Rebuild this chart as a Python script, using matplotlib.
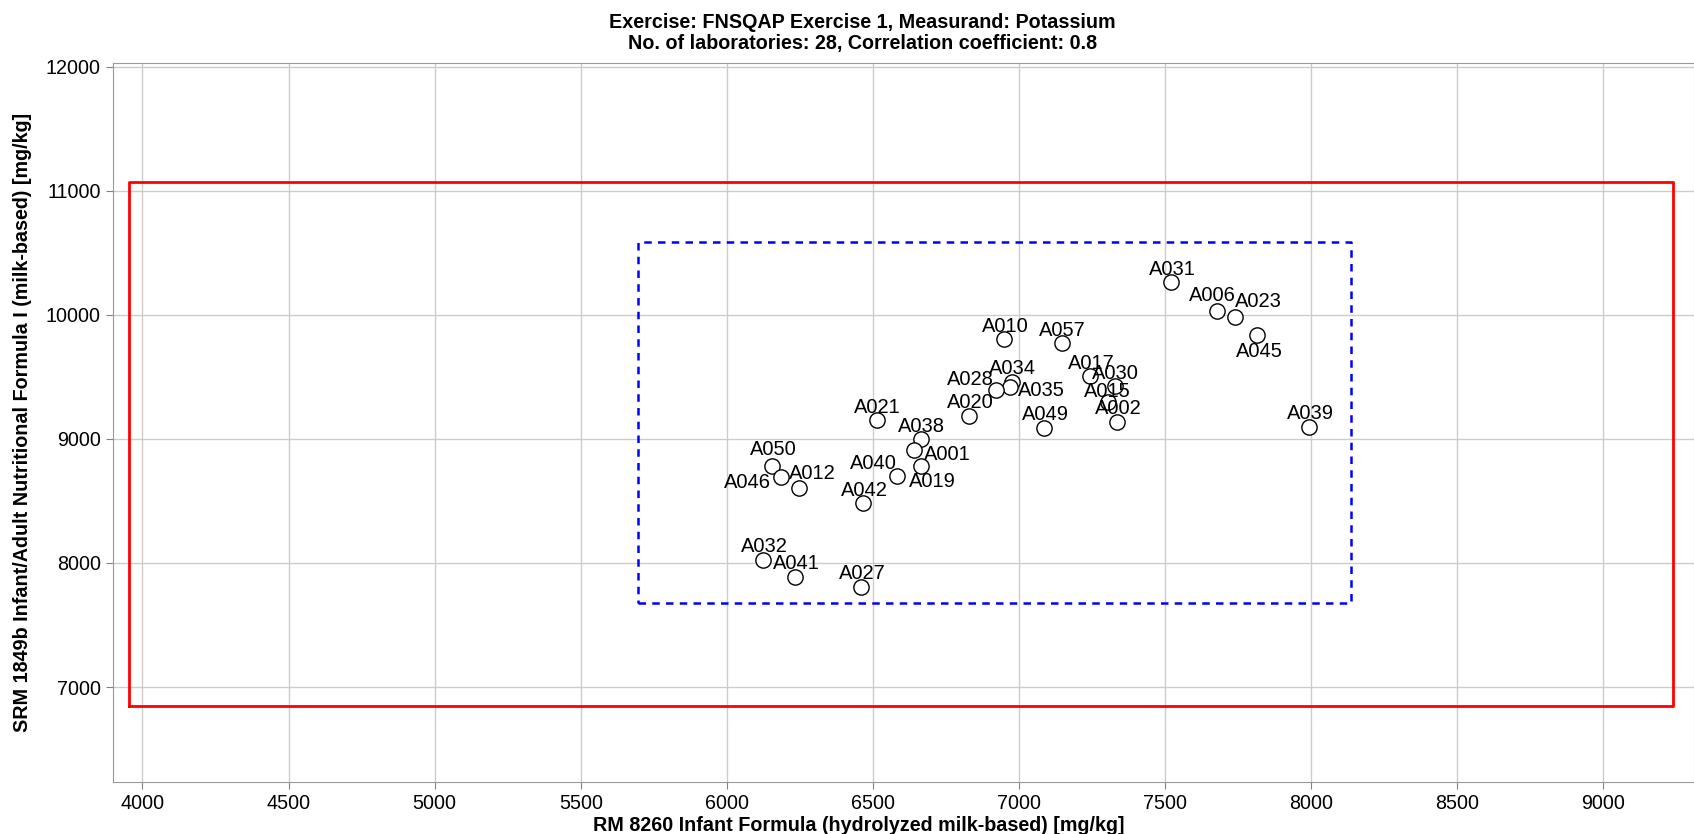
import matplotlib
matplotlib.use("Agg")
import matplotlib.pyplot as plt

plt.rcParams["font.family"] = ["Liberation Sans", "DejaVu Sans"]

# ---------------------------------------------------------------------
# Data
# ---------------------------------------------------------------------

labs = ["A010", "A057", "A034", "A035", "A028", "A017", "A030", "A015",
        "A002", "A049", "A020", "A021", "A038", "A001", "A019", "A040",
        "A042", "A050", "A046", "A012", "A032", "A041", "A027", "A031",
        "A006", "A023", "A045", "A039"]
x_vals = [6950, 7146, 6975, 6970, 6921, 7243, 7327, 7303,
          7335, 7087, 6830, 6513, 6664, 6641, 6664, 6582,
          6467, 6154, 6186, 6248, 6125, 6234, 6460, 7520,
          7677, 7740, 7816, 7994]
y_vals = [9803, 9770, 9461, 9416, 9394, 9507, 9426, 9300,
          9138, 9090, 9187, 9152, 8997, 8910, 8781, 8701,
          8481, 8781, 8695, 8602, 8024, 7889, 7809, 10262,
          10033, 9985, 9837, 9098]

# outer (red) and inner (blue dashed) limit boxes: x_low, x_high, y_low, y_high
red_box = [3955, 9239, 6844, 11070]
blue_box = [5695, 8137, 7680, 10587]

x_ticks = [4000, 4500, 5000, 5500, 6000, 6500, 7000, 7500, 8000, 8500, 9000]
y_ticks = [7000, 8000, 9000, 10000, 11000, 12000]

title_lines = ["Exercise: FNSQAP Exercise 1, Measurand: Potassium",
               "No. of laboratories: 28, Correlation coefficient: 0.8"]
x_label = "RM 8260 Infant Formula (hydrolyzed milk-based) [mg/kg]"
y_label = "SRM 1849b Infant/Adult Nutritional Formula I (milk-based) [mg/kg]"

# label placement around each circle, in pixels (dx, dy up)
label_offsets = {
	"A028": (-26, 11), "A035": (31, -3), "A015": (0, 10), "A001": (33, -4),
	"A019": (12, -15), "A040": (-24, 13), "A050": (1, 17), "A046": (-34, -6),
	"A012": (13, 15), "A006": (-4, 15), "A023": (23, 15), "A045": (2, -16),
}


def draw_box(ax, box, **kw):
	x0, x1, y0, y1 = box
	ax.plot([x0, x1, x1, x0, x0], [y0, y0, y1, y1, y0], **kw)


def main():
	fig = plt.figure(figsize=(16.94, 8.34), dpi=100)
	ax = fig.add_axes([0.0665, 0.062, 0.9335, 0.863])

	draw_box(ax, red_box, color="#ff0000", lw=2.0, zorder=2)
	draw_box(ax, blue_box, color="#0000ff", lw=1.8, ls=(0, (3, 2.5)), zorder=2)

	ax.scatter(x_vals, y_vals, s=11 ** 2, facecolors="white",
	           edgecolors="black", linewidths=1.0, zorder=3)

	for lab, x, y in zip(labs, x_vals, y_vals):
		dx, dy = label_offsets.get(lab, (1, 13))
		ax.annotate(lab, (x, y), xytext=(dx, dy), textcoords="offset pixels",
		            ha="center", va="center", fontsize=14.5, zorder=4)

	ax.set_xlim(3898, 9310)
	ax.set_ylim(6232, 12034)
	ax.set_xticks(x_ticks)
	ax.set_yticks(y_ticks)
	ax.tick_params(labelsize=14.2, color="#808080", length=5)
	ax.grid(True, color="#cccccc", lw=1.0, zorder=0)
	ax.set_axisbelow(True)
	for side in ["left", "bottom", "top", "right"]:
		ax.spines[side].set_color("#999999")

	fig.text(0.509, 1 - 22 / 834, title_lines[0], ha="center", va="center",
	         fontsize=14.2, fontweight="bold")
	fig.text(0.509, 1 - 43 / 834, title_lines[1], ha="center", va="center",
	         fontsize=14.2, fontweight="bold")
	ax.set_xlabel(x_label, fontsize=14.2, fontweight="bold", labelpad=2, x=0.472)
	ax.set_ylabel(y_label, fontsize=14.2, fontweight="bold", labelpad=10)

	fig.savefig("out.png", dpi=100, facecolor="white")


if __name__ == "__main__":
	main()
